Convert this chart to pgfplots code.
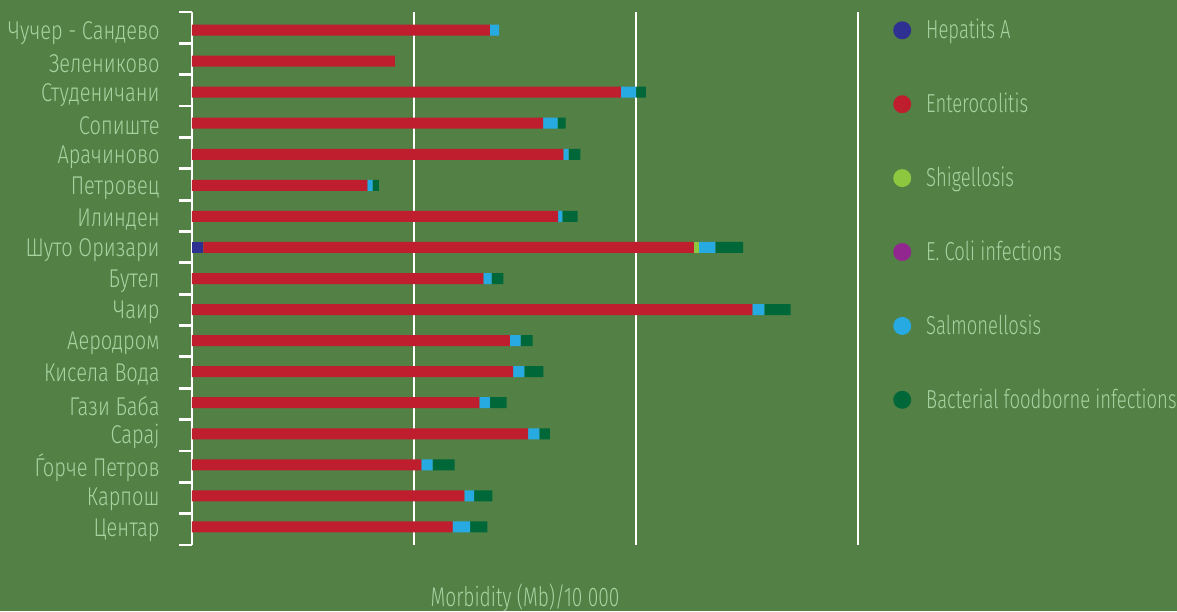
\documentclass[border=0pt]{standalone}
\usepackage{fontspec}
\setmainfont{Fira Sans Light}[FakeStretch=0.78]
\newfontfamily\narrowfont{Fira Sans Light}[FakeStretch=0.71]
\usepackage{pgfplots}
\usepackage{pgfplotstable}
\pgfplotsset{compat=1.18}
\definecolor{bg}{RGB}{83,128,69}
\definecolor{txt}{RGB}{166,211,160}
\definecolor{hepA}{RGB}{46,49,146}
\definecolor{ent}{RGB}{190,30,45}
\definecolor{shig}{RGB}{141,198,63}
\definecolor{ecoli}{RGB}{146,39,143}
\definecolor{sal}{RGB}{39,170,225}
\definecolor{bact}{RGB}{0,104,56}
\pgfplotstableread{
y hep ent shig ecoli sal bact
0 0 11.74 0 0 0.79 0.77
1 0 12.27 0 0 0.44 0.82
2 0 10.33 0 0 0.51 0.99
3 0 15.14 0 0 0.51 0.47
4 0 12.94 0 0 0.48 0.75
5 0 14.47 0 0 0.50 0.86
6 0 14.32 0 0 0.48 0.54
7 0 25.24 0 0 0.54 1.19
8 0 13.13 0 0 0.37 0.53
9 0.51 22.10 0.23 0 0.73 1.26
10 0 16.49 0 0 0.19 0.69
11 0 7.90 0 0 0.24 0.28
12 0 16.73 0 0 0.23 0.53
13 0 15.82 0 0 0.65 0.36
14 0 19.32 0 0 0.68 0.45
15 0 9.14 0 0 0 0
16 0 13.42 0 0 0.41 0
}\datatable
\begin{document}
\begin{tikzpicture}
\useasboundingbox (-192pt,-66pt) rectangle (985pt,545pt);
\fill[bg] (-192pt,-66pt) rectangle (985pt,545pt);
\begin{axis}[
  at={(0,0)}, anchor=south west,
  scale only axis, width=666pt, height=533pt,
  xmin=0, xmax=30, ymin=-0.58, ymax=16.58,
  xbar stacked, bar width=11pt,
  axis x line=bottom, x axis line style={draw=none},
  xtick={10,20,30}, xticklabels={}, xtick style={draw=none},
  xmajorgrids, major grid style={white, line width=2pt},
  axis y line=left, y axis line style={draw=white, line width=2.8pt, -},
  ytick={0,...,16},
  yticklabels={Центар, Карпош, Ѓорче Петров, Сарај, Гази Баба, Кисела Вода, Аеродром, Чаир, Бутел, Шуто Оризари, Илинден, Петровец, Арачиново, Сопиште, Студеничани, Зелениково, Чучер - Сандево},
  major y tick style={draw=none},
  minor ytick={-0.58,0.4294,1.4388,2.4482,3.4576,4.4671,5.4765,6.4859,7.4953,8.5047,9.5141,10.5235,11.5329,12.5424,13.5518,14.5612,15.5706,16.58},
  minor y tick style={draw=white, line width=2.8pt},
  minor tick length=13pt, tick align=outside,
  yticklabel style={anchor=east, inner sep=0pt, xshift=-28pt, yshift=-3pt, font=\fontsize{25.7}{28}\selectfont, text=txt},
  xlabel={Morbidity (Mb)/10 000},
  xlabel style={at={(axis description cs:0.5,0)}, anchor=base, yshift=-61pt, font=\narrowfont\fontsize{27}{30}\selectfont, text=txt},
  legend style={at={(axis description cs:1.0526,1)}, anchor=north west, xshift=-3pt, yshift=-3.6pt, draw=none, fill=none,
     font=\narrowfont\fontsize{26}{30}\selectfont, text=txt, row sep=45.9pt,
     /tikz/every odd column/.append style={column sep=15pt},
     nodes={inner sep=0pt, text height=21pt, text depth=7pt}, legend cell align=left},
  legend image code/.code={\fill[#1] (9pt,1.5pt) circle (9pt);},
]
\addplot[fill=hepA, draw=none, forget plot] table[x=hep, y=y] {\datatable};
\addplot[fill=ent, draw=none, forget plot] table[x=ent, y=y] {\datatable};
\addplot[fill=shig, draw=none, forget plot] table[x=shig, y=y] {\datatable};
\addplot[fill=ecoli, draw=none, forget plot] table[x=ecoli, y=y] {\datatable};
\addplot[fill=sal, draw=none, forget plot] table[x=sal, y=y] {\datatable};
\addplot[fill=bact, draw=none, forget plot] table[x=bact, y=y] {\datatable};
\addlegendimage{fill=hepA, draw=none}
\addlegendentry{Hepatits A}
\addlegendimage{fill=ent, draw=none}
\addlegendentry{Enterocolitis}
\addlegendimage{fill=shig, draw=none}
\addlegendentry{Shigellosis}
\addlegendimage{fill=ecoli, draw=none}
\addlegendentry{E. Coli infections}
\addlegendimage{fill=sal, draw=none}
\addlegendentry{Salmonellosis}
\addlegendimage{fill=bact, draw=none}
\addlegendentry{Bacterial foodborne infections}
\end{axis}
\end{tikzpicture}
\end{document}
